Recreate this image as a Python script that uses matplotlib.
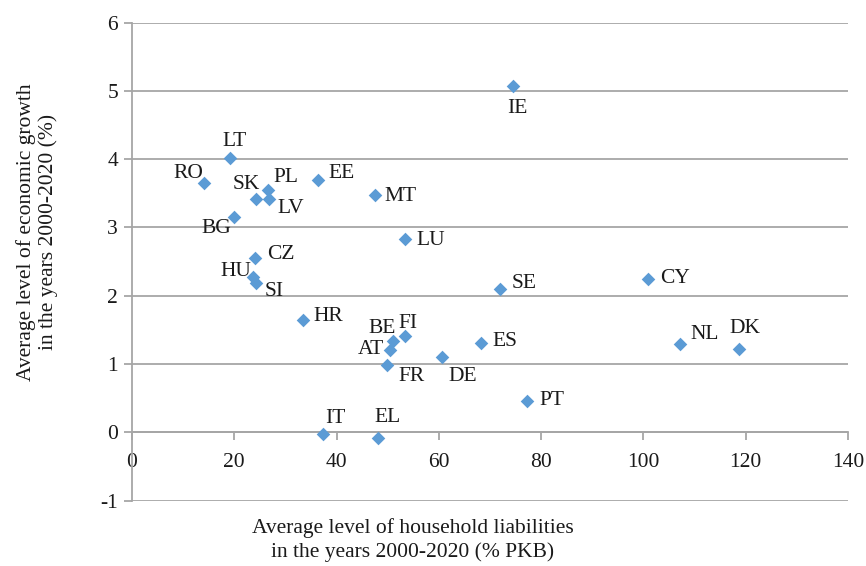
import matplotlib.pyplot as plt
import matplotlib.ticker as mticker

plt.rcParams['font.family'] = ['Liberation Serif', 'DejaVu Serif']

# country codes, household liabilities (% GDP), economic growth (%)
countries = ["IE", "LT", "RO", "PL", "SK", "LV", "EE", "MT", "BG", "LU",
             "CZ", "HU", "SI", "HR", "BE", "FI", "AT", "FR", "DE", "ES",
             "SE", "PT", "IT", "EL", "CY", "NL", "DK"]
liabilities = [74.5, 19.2, 14.1, 26.6, 24.3, 26.8, 36.4, 47.5, 20.0, 53.4,
               24.1, 23.7, 24.3, 33.5, 51.1, 53.4, 50.5, 49.9, 60.6, 68.3,
               72.0, 77.3, 37.4, 48.1, 100.9, 107.2, 118.7]
growth = [5.07, 4.02, 3.65, 3.55, 3.42, 3.42, 3.70, 3.47, 3.16, 2.83,
          2.56, 2.28, 2.18, 1.64, 1.34, 1.41, 1.21, 0.99, 1.11, 1.31,
          2.10, 0.46, -0.03, -0.08, 2.25, 1.30, 1.22]

# label offsets in pixels (right, down) from each marker
label_offsets = {
    "IE": (4, 22), "LT": (4, -16), "RO": (-16, -10), "PL": (18, -12),
    "SK": (-10, -14), "LV": (22, 10), "EE": (23, -6), "MT": (26, 1),
    "BG": (-18, 12), "LU": (26, 1), "CZ": (26, -3), "HU": (-17, -5),
    "SI": (18, 8), "HR": (25, -4), "BE": (-11, -12), "FI": (3, -13),
    "AT": (-19, 0), "FR": (24, 12), "DE": (21, 20), "ES": (24, -1),
    "SE": (24, -5), "PT": (25, 0), "IT": (12, -16), "EL": (10, -20),
    "CY": (27, 0), "NL": (24, -9), "DK": (6, -21),
}

fs = 15.5
txt_col = "#1a1a1a"
grid_col = "#a6a6a6"

fig = plt.figure(figsize=(8.66, 5.66), dpi=100)
ax = fig.add_axes([132 / 866, 1 - 500.7 / 566, (848 - 132) / 866, (500.7 - 22.5) / 566])

ax.scatter(liabilities, growth, marker="D", s=48, color="#5b9bd5", zorder=3, linewidths=0)

for c, x, y in zip(countries, liabilities, growth):
    dx, dy = label_offsets[c]
    ax.annotate(c, (x, y), xytext=(dx * 0.72, -dy * 0.72), textcoords="offset points",
                ha="center", va="center", fontsize=fs, color=txt_col)

ax.set_xlim(0, 140)
ax.set_ylim(-1, 6)
ax.xaxis.set_major_locator(mticker.MultipleLocator(20))
ax.yaxis.set_major_locator(mticker.MultipleLocator(1))
ax.yaxis.set_major_formatter(mticker.FuncFormatter(lambda v, _: f"{v:.0f}"))

ax.yaxis.grid(True, color=grid_col, linewidth=1.3)
ax.set_axisbelow(True)

for s in ["top", "right"]:
    ax.spines[s].set_visible(False)
ax.spines["left"].set_color(grid_col)
ax.spines["left"].set_linewidth(1.3)
ax.spines["bottom"].set_position(("data", 0))
ax.spines["bottom"].set_color(grid_col)
ax.spines["bottom"].set_linewidth(1.3)

ax.tick_params(axis="both", colors=grid_col, labelcolor=txt_col, labelsize=fs,
               direction="out", length=6, width=1.3)
ax.tick_params(axis="x", pad=9)
ax.tick_params(axis="y", pad=4)

fig.text(413 / 866, 1 - 528 / 566, "Average level of household liabilities",
         ha="center", va="center", fontsize=fs, color=txt_col)
fig.text(413 / 866, 1 - 552 / 566, "in the years 2000-2020 (% PKB)",
         ha="center", va="center", fontsize=fs, color=txt_col)
fig.text(37 / 866, 1 - 232 / 566, "Average level of economic growth\nin the years 2000-2020 (%)",
         ha="center", va="center", rotation=90, fontsize=fs, color=txt_col,
         linespacing=1.15)

fig.savefig("out.png", dpi=100)
